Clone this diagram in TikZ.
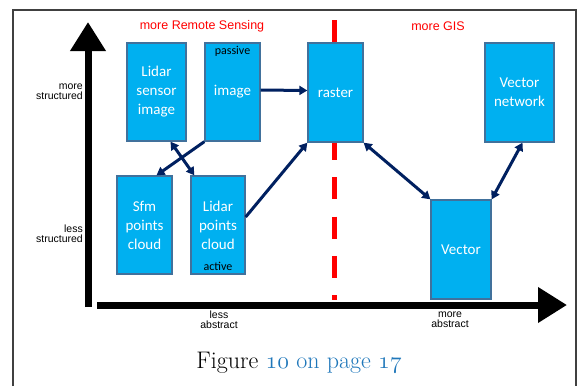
\RequirePackage{fix-cm}
\documentclass[tikz,border=0pt]{standalone}
\usepackage{fontspec}
\usetikzlibrary{arrows.meta}

\newfontfamily\boxfont{Carlito}
\newfontfamily\axisfont{Liberation Sans}

\definecolor{boxfill}{HTML}{00B0F0}
\definecolor{boxline}{HTML}{41719C}
\definecolor{navy}{HTML}{002060}
\definecolor{linkblue}{RGB}{31,119,186}
\definecolor{framegray}{HTML}{404040}

\tikzset{
  databox/.style={draw=boxline, fill=boxfill, line width=1.3pt, text=white,
    align=center, inner sep=0pt, font=\boxfont\fontsize{15}{19}\selectfont},
  tag/.style={inner sep=0pt, text=black, font=\boxfont\fontsize{12}{14}\selectfont},
  flow/.style={navy, line width=3pt, -{Triangle[length=8pt,width=9pt]}},
  flowboth/.style={flow, {Triangle[length=8pt,width=9pt]}-{Triangle[length=8pt,width=9pt]}},
  axis/.style={line width=7pt, -{Triangle[length=29pt,width=34pt]}},
  axislabel/.style={inner sep=0pt, font=\axisfont\fontsize{10.5}{9.8}\selectfont},
  side/.style={inner sep=0pt, red, font=\axisfont\fontsize{12.5}{15}\selectfont}
}

\begin{document}
\begin{tikzpicture}[x=1pt, y=-1pt]
    % page area and frame
    \useasboundingbox (0,0) rectangle (581,386);
    \draw[framegray, line width=1.2pt] (13,386) -- (13,10) -- (576,10) -- (576,386);

    % border between remote sensing and GIS
    \draw[red, line width=5pt, dash pattern=on 22pt off 17.3pt] (334,20) -- (334,300);

    % axes
    \coordinate (ybot) at (88,307);
    \coordinate (ytop) at (88,22);
    \coordinate (xleft) at (97,305);
    \coordinate (xright) at (567,305);
    \draw[axis] (ybot) -- (ytop);
    \draw[axis] (xleft) -- (xright);

    % axis labels
    \node[axislabel, anchor=east, align=right] (mstruct) at (83,92) {more\\structured};
    \node[axislabel, anchor=east, align=right] (lstruct) at (83,234) {less\\structured};
    \node[axislabel, align=center] (labs) at (219,320) {less\\abstract};
    \node[axislabel, align=center] (mabs) at (450,320) {more\\abstract};
    \node[side] (rs) at (202,26) {more Remote Sensing};
    \node[side] (gis) at (438,26) {more GIS};

    % data boxes
    \node[databox, minimum width=59pt, minimum height=98pt] (lsi) at (156.5,92) {Lidar\\sensor\\image};
    \node[databox, minimum width=55pt, minimum height=98pt] (img) at (232.5,92) {image};
    \node[databox, minimum width=55pt, minimum height=99pt] (rast) at (335.5,92.5) {raster};
    \node[databox, minimum width=69pt, minimum height=99pt] (vnet) at (519.5,92.5) {Vector\\network};
    \node[databox, minimum width=55pt, minimum height=98pt] (sfm) at (144.5,225) {Sfm\\points\\cloud};
    \node[databox, minimum width=54pt, minimum height=98pt] (lpc) at (218,225) {Lidar\\points\\cloud};
    \node[databox, minimum width=60pt, minimum height=99pt] (vec) at (461,249.5) {Vector};
    \node[tag, anchor=north] (pas) at ([yshift=-4pt]img.north) {passive};
    \node[tag, anchor=south] (act) at ([yshift=4pt]lpc.south) {active};

    % connections
    \draw[flow] ([yshift=2pt]img.east) -- ([yshift=2pt]rast.west);
    \draw[flow] ([yshift=8pt]lpc.east) -- (rast.south west);
    \draw[flow] (img.south west) -- ([xshift=12pt]sfm.north);
    \draw[flowboth] ([xshift=14pt]lsi.south) -- ([xshift=4pt]lpc.north west);
    \draw[flowboth] (rast.south east) -- (vec.north west);
    \draw[flowboth] ([xshift=3pt]vnet.south) -- (vec.north east);

    % caption
    \node[anchor=base, inner sep=0pt, font=\fontsize{24}{28}\selectfont] (cap) at (299,368)
        {Figure \textcolor{linkblue}{$\mathnormal{10}$ on page $\mathnormal{17}$}};
\end{tikzpicture}
\end{document}
